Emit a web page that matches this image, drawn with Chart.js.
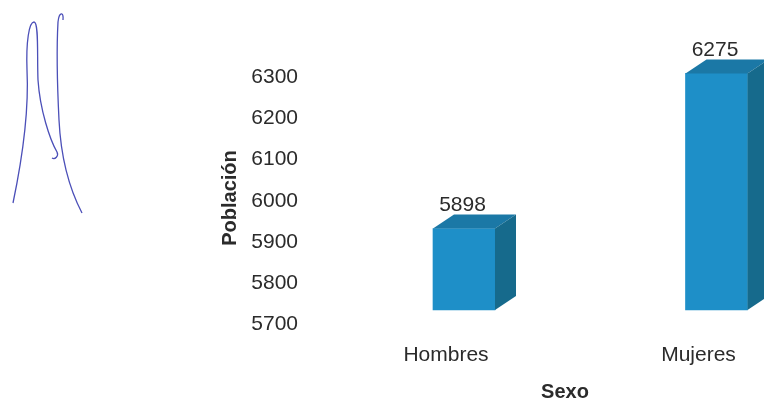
<!DOCTYPE html>
<html>
<head>
<meta charset="utf-8">
<script src="https://cdn.jsdelivr.net/npm/chart.js@4.4.1/dist/chart.umd.min.js"></script>
<style>
  html, body { margin: 0; padding: 0; background: #fff; overflow: hidden; }
  #wrap { position: relative; width: 800px; height: 401px; }
  #firma { position: absolute; left: 0; top: 0; }
</style>
</head>
<body>
<div id="wrap">
  <canvas id="chart" width="800" height="401"></canvas>
  <!-- scanned signature in the margin -->
  <svg id="firma" width="120" height="230" viewBox="0 0 120 230">
    <path d="M13,203 C22,160 29,110 27,70 C26,42 29,22 34,22 C39,22 37,55 38,80 C40,110 50,140 57,152 C59,156 55,160 52,158"
          fill="none" stroke="#4b4fb8" stroke-width="1.3"/>
    <path d="M82,213 C70,190 61,160 59,120 C57,80 57,40 58,22 C59,12 64,11 63,20"
          fill="none" stroke="#4b4fb8" stroke-width="1.3"/>
  </svg>
</div>
<script>
// Población por sexo
const categories = ['Hombres', 'Mujeres'];
const population = [5898, 6275];
const yTicks = [5700, 5800, 5900, 6000, 6100, 6200, 6300];

const fontFamily = '"Liberation Sans", Arial, sans-serif';
const textColor = '#2b2b2b';

// colours of the 3D box faces
const frontColor = '#1e8fc8';
const topColor = '#1b78a6';
const sideColor = '#166a8c';
const depthX = 21;
const depthY = -14;

// draws the top and right faces of each bar plus the value label
const boxPlugin = {
  id: 'box3d',
  afterDatasetsDraw(chart) {
    const ctx = chart.ctx;
    const meta = chart.getDatasetMeta(0);
    ctx.save();
    meta.data.forEach((bar, i) => {
      const p = bar.getProps(['x', 'y', 'base', 'width'], true);
      const x0 = p.x - p.width / 2;
      const x1 = p.x + p.width / 2;

      ctx.fillStyle = topColor;
      ctx.beginPath();
      ctx.moveTo(x0, p.y);
      ctx.lineTo(x0 + depthX, p.y + depthY);
      ctx.lineTo(x1 + depthX, p.y + depthY);
      ctx.lineTo(x1, p.y);
      ctx.closePath();
      ctx.fill();

      ctx.fillStyle = sideColor;
      ctx.beginPath();
      ctx.moveTo(x1, p.y);
      ctx.lineTo(x1 + depthX, p.y + depthY);
      ctx.lineTo(x1 + depthX, p.base + depthY);
      ctx.lineTo(x1, p.base);
      ctx.closePath();
      ctx.fill();

      ctx.fillStyle = textColor;
      ctx.font = '21px ' + fontFamily;
      ctx.textAlign = 'center';
      ctx.textBaseline = 'middle';
      ctx.fillText(String(population[i]), p.x - 1.5, p.y - 23);
    });
    ctx.restore();
  }
};

new Chart(document.getElementById('chart'), {
  type: 'bar',
  data: {
    datasets: [{
      data: categories.map((c, i) => ({ x: i, y: population[i] })),
      backgroundColor: frontColor,
      borderWidth: 0,
      barThickness: 62,
      base: 5700,
      clip: false,
      xAxisID: 'x',
      yAxisID: 'y'
    }]
  },
  options: {
    responsive: false,
    animation: false,
    layout: { padding: { left: 214, right: 8, top: 66, bottom: 0 } },
    plugins: {
      legend: { display: false },
      tooltip: { enabled: false }
    },
    scales: {
      x: {
        type: 'linear',
        offset: false,
        min: -0.499,
        max: 1.299,
        grid: { display: false, drawTicks: false },
        border: { display: false },
        afterBuildTicks: (scale) => { scale.ticks = categories.map((c, i) => ({ value: i })); },
        afterFit: (scale) => { scale.height = 71; },
        ticks: {
          autoSkip: false,
          padding: 13,
          labelOffset: -18,
          color: textColor,
          font: { family: fontFamily, size: 21 },
          callback: (v) => categories[v]
        },
        title: {
          display: true,
          text: 'Sexo',
          color: textColor,
          padding: { top: 0, bottom: -3 },
          font: { family: fontFamily, size: 20, weight: 'bold' }
        }
      },
      // value axis the bars are drawn on (front face of the boxes)
      y: {
        display: false,
        min: 5651.4,
        max: 6293.0
      },
      // visible axis with the labels, sitting lower like on the back wall
      yt: {
        position: 'left',
        min: 5686.7,
        max: 6326.7,
        grid: { display: false, drawTicks: false },
        border: { display: false },
        afterBuildTicks: (scale) => { scale.ticks = yTicks.map(v => ({ value: v })); },
        afterFit: (scale) => { scale.width = 124; },
        ticks: {
          padding: 40,
          color: textColor,
          font: { family: fontFamily, size: 21 },
          callback: (v) => String(v)
        },
        title: {
          display: true,
          text: 'Población',
          color: textColor,
          padding: { top: 4, bottom: 4 },
          font: { family: fontFamily, size: 20, weight: 'bold' }
        }
      }
    }
  },
  plugins: [boxPlugin]
});
</script>
</body>
</html>
